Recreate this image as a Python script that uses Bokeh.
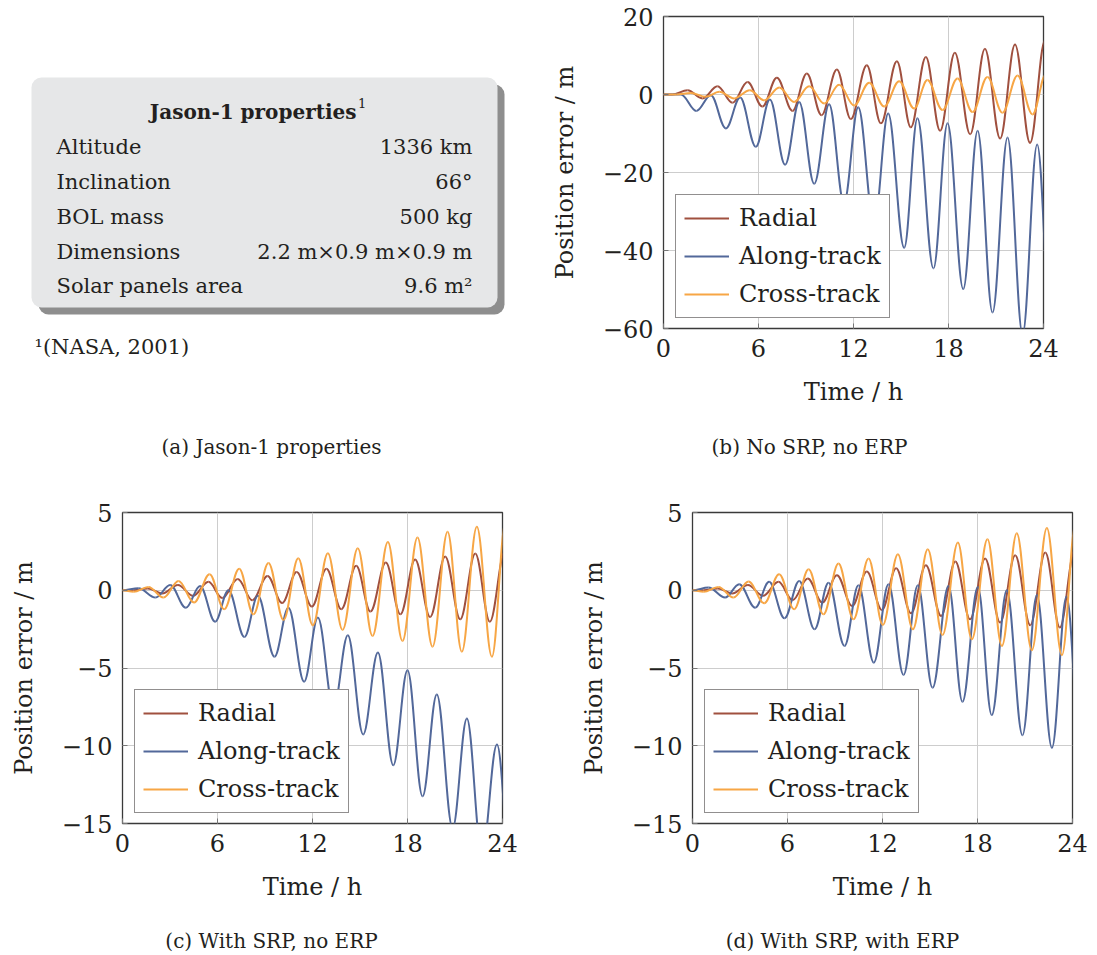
import numpy as np
from bokeh.plotting import figure
from bokeh.models import (Range1d, FixedTicker, ColumnDataSource, BoxAnnotation, Title,
                          CustomJSTickFormatter)
from bokeh.layouts import column, row
from bokeh.core.properties import value
from bokeh.embed import file_html
from bokeh.resources import INLINE

FONT = "DejaVu Serif"
TXT = "#231f20"
C_RAD = "#a0503f"
C_ALONG = "#52689a"
C_CROSS = "#f7a645"

# ---------------- data ----------------
series_names = ["Radial", "Along-track", "Cross-track"]
x_ticks = [0, 6, 12, 18, 24]
y_ticks_b = [-60, -40, -20, 0, 20]
y_ticks_cd = [-15, -10, -5, 0, 5]

# Table (panel a)
table_title = "Jason-1 properties"
table_labels = ["Altitude", "Inclination", "BOL mass", "Dimensions", "Solar panels area"]
table_values = ["1336 km", "66°", "500 kg", "2.2 m×0.9 m×0.9 m", "9.6 m²"]
footnote = "¹(NASA, 2001)"
captions = ["(a) Jason-1 properties", "(b) No SRP, no ERP", "(c) With SRP, no ERP",
            "(d) With SRP, with ERP"]

# Panel (b): No SRP, no ERP  -- extrema (time h, error m)
b_rad_t = [0, 0.55, 1.52, 2.46, 3.41, 4.36, 5.31, 6.25, 7.16, 8.15, 9.05, 9.98, 10.95, 11.83,
           12.84, 13.73, 14.74, 15.62, 16.57, 17.47, 18.4, 19.37, 20.3, 21.26, 22.2, 23.15, 24.1]
b_rad_v = [0, 0, 1.1, -1.0, 2.1, -2.1, 3.2, -3.1, 4.3, -4.2, 5.4, -5.3, 6.4, -6.3,
           7.5, -7.4, 8.5, -8.4, 9.6, -9.3, 10.7, -10.2, 11.7, -11.3, 12.8, -12.4, 13.9]
b_alo_t = [0, 1.1, 2.08, 2.99, 3.94, 4.84, 5.83, 6.72, 7.68, 8.57, 9.52, 10.46, 11.4, 12.3,
           13.3, 14.19, 15.2, 16.04, 17.05, 17.94, 18.93, 19.84, 20.78, 21.73, 22.68, 23.6, 24.55]
b_alo_v = [0, 0, -4.2, -0.2, -8.7, -0.8, -13.4, -1.3, -18.0, -1.9, -22.9, -2.5, -27.8, -3.3,
           -33.3, -4.9, -39.3, -6.1, -44.6, -7.4, -49.9, -9.3, -55.9, -11.0, -61.5, -12.8, -66.0]
b_cro_t = [0, 0.8, 1.73, 2.67, 3.52, 4.46, 5.45, 6.36, 7.31, 8.25, 9.2, 10.15, 11.09, 12.04,
           12.99, 13.94, 14.88, 15.83, 16.67, 17.62, 18.57, 19.52, 20.46, 21.41, 22.36, 23.31, 24.15]
b_cro_v = [0, 0, 0.4, -0.6, 0.7, -1.0, 1.1, -1.5, 1.8, -1.9, 2.1, -2.3, 2.5, -2.8,
           3.0, -3.1, 3.4, -3.6, 3.7, -4.0, 4.1, -4.5, 4.5, -4.7, 4.9, -5.1, 5.2]

# Panel (c): With SRP, no ERP
c_rad_t = [0, 0.7, 1.6, 2.5, 3.5, 4.45, 5.43, 6.3, 7.28, 8.2, 9.16, 10.08, 11.0, 11.96,
           12.88, 13.82, 14.76, 15.66, 16.63, 17.55, 18.48, 19.43, 20.38, 21.33, 22.28, 23.2, 24.15]
c_rad_v = [0, 0, 0.12, -0.21, 0.34, -0.36, 0.54, -0.5, 0.73, -0.64, 0.92, -0.82, 1.18, -1.05,
           1.39, -1.22, 1.57, -1.37, 1.78, -1.55, 1.97, -1.72, 2.17, -1.87, 2.36, -2.02, 2.5]
c_alo_t = [0, 1.01, 2.09, 3.01, 4.0, 4.9, 5.85, 6.69, 7.7, 8.55, 9.6, 10.48, 11.47, 12.34,
           13.33, 14.23, 15.2, 16.13, 17.1, 18.0, 18.95, 19.85, 20.85, 21.75, 22.7, 23.65, 24.6]
c_alo_v = [0, 0.13, -0.47, 0.34, -1.12, 0.28, -2.02, 0.0, -3.0, -0.36, -4.27, -1.12, -5.88, -1.76,
           -7.6, -2.9, -9.27, -4.01, -11.25, -5.15, -13.25, -6.7, -15.3, -8.24, -17.0, -9.92, -19.0]
c_cro_t = [0, 0.7, 1.64, 2.59, 3.54, 4.52, 5.5, 6.42, 7.37, 8.27, 9.22, 10.17, 11.1, 12.02,
           12.97, 13.9, 14.86, 15.79, 16.76, 17.68, 18.63, 19.58, 20.53, 21.43, 22.38, 23.33, 24.2]
c_cro_v = [0, -0.1, 0.21, -0.47, 0.6, -0.79, 1.03, -1.22, 1.39, -1.55, 1.76, -1.91, 2.06, -2.25,
           2.38, -2.55, 2.7, -2.94, 3.11, -3.26, 3.39, -3.63, 3.76, -3.95, 4.08, -4.27, 4.4]

# Panel (d): With SRP, with ERP
d_rad_t = [0, 0.7, 1.6, 2.5, 3.5, 4.45, 5.43, 6.32, 7.28, 8.2, 9.12, 10.08, 11.01, 11.96,
           12.86, 13.8, 14.74, 15.7, 16.6, 17.53, 18.48, 19.43, 20.38, 21.33, 22.28, 23.2, 24.15]
d_rad_v = [0, 0, 0.12, -0.21, 0.34, -0.36, 0.54, -0.64, 0.75, -0.79, 0.97, -1.01, 1.2, -1.27,
           1.42, -1.48, 1.61, -1.65, 1.85, -1.87, 2.04, -2.08, 2.25, -2.25, 2.42, -2.4, 2.6]
d_alo_t = [0, 1.01, 2.06, 2.95, 3.96, 4.84, 5.81, 6.74, 7.71, 8.59, 9.6, 10.48, 11.45, 12.38,
           13.33, 14.23, 15.16, 16.17, 17.05, 18.02, 18.9, 19.85, 20.84, 21.75, 22.7, 23.62, 24.55]
d_alo_v = [0, 0.17, -0.47, 0.39, -1.12, 0.54, -1.8, 0.6, -2.51, 0.49, -3.58, 0.32, -4.66, 0.39,
           -5.45, 0.32, -6.27, 0.28, -7.17, 0.21, -8.03, 0.0, -9.32, -0.3, -10.13, -0.4, -11.0]
d_cro_t = [0, 0.7, 1.64, 2.59, 3.54, 4.53, 5.47, 6.42, 7.33, 8.27, 9.22, 10.17, 11.12, 12.02,
           12.97, 13.92, 14.86, 15.79, 16.76, 17.64, 18.63, 19.54, 20.48, 21.43, 22.38, 23.33, 24.2]
d_cro_v = [0, -0.1, 0.21, -0.47, 0.56, -0.84, 1.03, -1.22, 1.35, -1.55, 1.72, -1.87, 2.04, -2.23,
           2.32, -2.51, 2.64, -2.88, 3.07, -3.15, 3.28, -3.58, 3.67, -3.86, 4.0, -4.17, 4.3]

# ---------------- helpers ----------------
K = 0.3642  # control-point fraction for smooth half-waves between extrema


def seg_source(t, v):
    t = np.asarray(t, float)
    v = np.asarray(v, float)
    dt = t[1:] - t[:-1]
    return ColumnDataSource(dict(x0=t[:-1], y0=v[:-1], x1=t[1:], y1=v[1:],
                                 cx0=t[:-1] + K * dt, cy0=v[:-1],
                                 cx1=t[1:] - K * dt, cy1=v[1:]))


minus_fmt = CustomJSTickFormatter(code="return tick < 0 ? '\u2212' + Math.abs(tick) : String(tick);")


def make_panel(data, y_range, y_ticks, W, H, bl, br, bt, bb):
    p = figure(width=W, height=H, x_range=Range1d(0, 24), y_range=Range1d(*y_range),
               output_backend="svg", toolbar_location=None,
               min_border_left=bl, min_border_right=br, min_border_top=bt, min_border_bottom=bb)
    p.background_fill_color = "white"
    p.border_fill_color = "white"
    p.outline_line_color = "#3a3a3a"
    p.outline_line_width = 1.3
    for ax in (p.xaxis, p.yaxis):
        ax.axis_line_color = None
        ax.major_tick_in = 5
        ax.major_tick_out = 0
        ax.major_tick_line_color = "#777777"
        ax.minor_tick_line_color = None
        ax.major_label_text_font = FONT
        ax.major_label_text_font_size = "24px"
        ax.major_label_text_color = TXT
        ax.axis_label_text_font = FONT
        ax.axis_label_text_font_size = "24px"
        ax.axis_label_text_font_style = "normal"
        ax.axis_label_text_color = TXT
    p.xaxis.ticker = FixedTicker(ticks=x_ticks)
    p.yaxis.ticker = FixedTicker(ticks=y_ticks)
    p.yaxis.formatter = minus_fmt
    p.xaxis.axis_label = "Time / h"
    p.yaxis.axis_label = "Position error / m"
    p.xaxis.major_label_standoff = 10
    p.yaxis.major_label_standoff = 10
    p.xaxis.axis_label_standoff = 18
    p.yaxis.axis_label_standoff = 21
    p.grid.grid_line_color = "#cdcdcd"
    p.grid.grid_line_width = 1

    colors = [C_RAD, C_ALONG, C_CROSS]
    for (t, v), name, col in zip(data, series_names, colors):
        p.bezier(x0="x0", y0="y0", x1="x1", y1="y1", cx0="cx0", cy0="cy0", cx1="cx1", cy1="cy1",
                 source=seg_source(t, v), line_color=col, line_width=2, legend_label=name)

    lg = p.legend[0]
    lg.location = (12, 10)
    lg.label_text_font = FONT
    lg.label_text_font_size = "24px"
    lg.label_text_color = TXT
    lg.border_line_color = "#231f20"
    lg.border_line_width = 1
    lg.background_fill_color = "white"
    lg.background_fill_alpha = 1.0
    lg.glyph_width = 45
    lg.glyph_height = 30
    lg.label_height = 30
    lg.label_standoff = 10
    lg.padding = 8
    lg.spacing = 8
    lg.margin = 0
    return p


def caption_fig(W, H, text, cx, cy):
    c = figure(width=W, height=H, x_range=Range1d(0, W), y_range=Range1d(H, 0),
               output_backend="svg", toolbar_location=None, x_axis_type=None, y_axis_type=None,
               min_border=0)
    c.outline_line_color = None
    c.grid.visible = False
    c.text(x=[cx], y=[cy], text=[text], text_align="center", text_baseline="middle",
           text_font=value(FONT), text_font_size="20px", text_color=TXT)
    return c


# ---------------- layout geometry ----------------
W1, W2 = 545, 549          # column widths
H1 = 428                    # top plot row
HC1 = 42                    # first caption row
H2 = 453                    # bottom plot row
HC2 = 30                    # second caption row

# ---------------- panel a (table) ----------------
pa = figure(width=W1, height=H1, x_range=Range1d(0, W1), y_range=Range1d(328, 16),
            output_backend="svg", toolbar_location=None, x_axis_type=None, y_axis_type=None,
            min_border_left=0, min_border_right=0, min_border_top=16, min_border_bottom=100)
pa.outline_line_color = None
pa.grid.visible = False
pa.add_layout(BoxAnnotation(left=38, right=504, top=84, bottom=314, fill_color="#8e8e8e",
                            fill_alpha=1, line_color=None, border_radius=10, level="underlay"))
pa.add_layout(BoxAnnotation(left=31, right=497, top=77, bottom=307, fill_color="#e6e7e8",
                            fill_alpha=1, line_color=None, border_radius=10, level="underlay"))

row_step = 34.8
rows_y = [146.7 + i * row_step for i in range(len(table_labels))]
pa.text(x=[56] * len(table_labels), y=rows_y, text=table_labels, text_align="left",
        text_baseline="alphabetic", text_font=value(FONT), text_font_size="21px", text_color=TXT)
pa.text(x=[472] * len(table_values), y=rows_y, text=table_values, text_align="right",
        text_baseline="alphabetic", text_font=value(FONT), text_font_size="21px", text_color=TXT)
pa.text(x=[356], y=[111.7], text=[table_title], text_align="right", text_baseline="alphabetic",
        text_font=value(FONT), text_font_size="20px", text_font_style="bold", text_color=TXT)
pa.text(x=[357.5], y=[102], text=["1"], text_align="left", text_baseline="alphabetic",
        text_font=value(FONT), text_font_size="13px", text_color=TXT)
pa.add_layout(Title(text=footnote, align="left", offset=34, standoff=8, text_font=FONT,
                    text_font_size="21px", text_font_style="normal", text_color=TXT), "below")

# ---------------- panels b, c, d ----------------
pb = make_panel([(b_rad_t, b_rad_v), (b_alo_t, b_alo_v), (b_cro_t, b_cro_v)],
                (-60, 20), y_ticks_b, W2, H1, 118, 51, 16, 100)
pc = make_panel([(c_rad_t, c_rad_v), (c_alo_t, c_alo_v), (c_cro_t, c_cro_v)],
                (-15, 5), y_ticks_cd, W1, H2, 122, 43, 42, 100)
pd = make_panel([(d_rad_t, d_rad_v), (d_alo_t, d_alo_v), (d_cro_t, d_cro_v)],
                (-15, 5), y_ticks_cd, W2, H2, 147, 22, 42, 100)

ca = caption_fig(W1, HC1, captions[0], 271, 18)
cb = caption_fig(W2, HC1, captions[1], 809 - W1, 18)
cc = caption_fig(W1, HC2, captions[2], 271, 17)
cd = caption_fig(W2, HC2, captions[3], 842 - W1, 17)

layout = column(row(pa, pb), row(ca, cb), row(pc, pd), row(cc, cd))
open("out.html", "w").write(file_html(layout, INLINE))
